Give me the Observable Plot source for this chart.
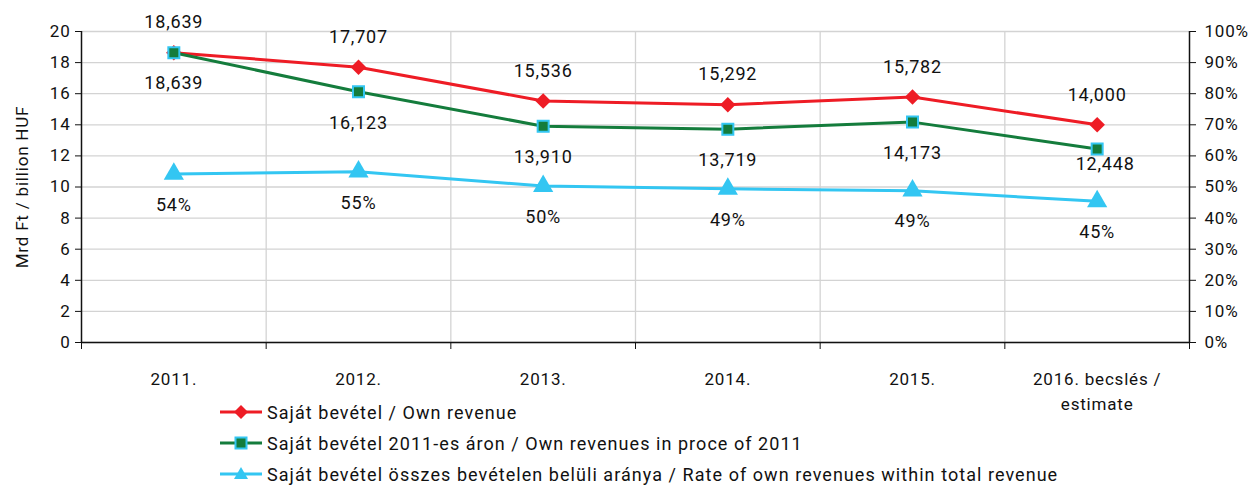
<!DOCTYPE html>
<html><head><meta charset="utf-8">
<script src="https://cdn.jsdelivr.net/npm/d3@7"></script>
<script src="https://cdn.jsdelivr.net/npm/@observablehq/plot@0.6"></script>
<style>
body{margin:0;background:#fff;font-family:Roboto,"Noto Sans",sans-serif}
#wrap{position:relative;width:1259px;height:492px}
#legend{position:absolute;left:220px;top:396.5px;font-size:18px;letter-spacing:1.05px;color:#111;font-family:Roboto,sans-serif}
.row{height:31px;display:flex;align-items:center;white-space:nowrap}
.row svg{margin-right:5px;flex:none}
</style></head><body><div id="wrap"><div id="chart"></div><div id="legend"></div></div>
<script>
const years = ["2011.", "2012.", "2013.", "2014.", "2015.", "2016. becslés /\nestimate"];
const ownRevenue = [18639, 17707, 15536, 15292, 15782, 14000];
const ownRevenue2011 = [18639, 16123, 13910, 13719, 14173, 12448];
const ownShare = [54.2, 54.9, 50.3, 49.4, 48.8, 45.4];
const seriesNames = [
  "Saját bevétel / Own revenue",
  "Saját bevétel 2011-es áron / Own revenues in proce of 2011",
  "Saját bevétel összes bevételen belüli aránya / Rate of own revenues within total revenue"
];
const yTicks = [0, 2, 4, 6, 8, 10, 12, 14, 16, 18, 20];
const yLabel = "Mrd Ft / billion HUF";

const RED = "#ee1c25", GREEN = "#147c3c", CYAN = "#33c6f2";
const fmt = d3.format(",");
const rows = years.map((y, i) => ({
  i, year: y,
  rev: ownRevenue[i] / 1000, revL: fmt(ownRevenue[i]),
  real: ownRevenue2011[i] / 1000, realL: fmt(ownRevenue2011[i]),
  share: ownShare[i] / 5, shareL: Math.round(ownShare[i]) + "%"
}));
const n = years.length;
const bounds = d3.range(n + 1).map(i => i - 0.5);
const last = rows.slice(-1);
const notLast = rows.slice(0, -1);

const chart = Plot.plot({
  width: 1259, height: 492,
  marginLeft: 81, marginRight: 70, marginTop: 31, marginBottom: 150,
  style: {fontFamily: "Roboto, sans-serif", fontSize: "17px", color: "#111", background: "transparent", overflow: "visible", letterSpacing: "0.8px"},
  x: {type: "linear", domain: [-0.5, n - 0.5]},
  y: {domain: [0, 20]},
  marks: [
    Plot.ruleY(yTicks, {stroke: "#d3d3d3", strokeWidth: 1.3}),
    Plot.ruleX(bounds.slice(1, -1), {stroke: "#d3d3d3", strokeWidth: 1.3}),
    Plot.axisY(yTicks, {anchor: "left", tickSize: 6, tickPadding: 5, label: null, stroke: "#111", fontSize: 17}),
    Plot.axisY(yTicks, {anchor: "right", tickSize: 6, tickPadding: 9, label: null, tickFormat: d => d * 5 + "%", textAnchor: "start", stroke: "#111", fontSize: 17}),
    Plot.axisX(bounds, {tickSize: 7, tickFormat: () => "", label: null, stroke: "#111"}),
    Plot.axisX(d3.range(n), {tickSize: 0, tickPadding: 24, tickFormat: i => years[i], label: null, lineHeight: 1.5, lineAnchor: "top", fontSize: 17}),
    Plot.ruleX([bounds[0], bounds[n]], {stroke: "#111", strokeWidth: 1.5}),
    Plot.ruleY([0], {stroke: "#111", strokeWidth: 1.5}),
    Plot.text([yLabel], {frameAnchor: "left", textAnchor: "middle", rotate: -90, dx: -59, fontSize: 17, fill: "#111"}),
    // own revenue
    Plot.line(rows, {x: "i", y: "rev", stroke: RED, strokeWidth: 3}),
    Plot.dot(rows, {x: "i", y: "rev", symbol: "diamond2", r: 7, fill: RED, stroke: "none"}),
    // real
    Plot.line(rows, {x: "i", y: "real", stroke: GREEN, strokeWidth: 3}),
    Plot.dot(rows, {x: "i", y: "real", symbol: "square", r: 6.2, fill: GREEN, stroke: CYAN, strokeWidth: 2}),
    // share
    Plot.line(rows, {x: "i", y: "share", stroke: CYAN, strokeWidth: 3}),
    Plot.dot(rows, {x: "i", y: "share", symbol: "triangle", r: 7.5, fill: CYAN, stroke: "none"}),
    // labels
    Plot.text(rows, {x: "i", y: "rev", text: "revL", dy: -30, fontSize: 18, fill: "#111"}),
    Plot.text(notLast, {x: "i", y: "real", text: "realL", dy: 31, fontSize: 18, fill: "#111"}),
    Plot.text(last, {x: "i", y: "real", text: "realL", dy: 15, dx: 8, fontSize: 18, fill: "#111"}),
    Plot.text(rows, {x: "i", y: "share", text: "shareL", dy: 31, fontSize: 18, fill: "#111"})
  ]
});
document.getElementById("chart").appendChild(chart);

const symbols = [
  `<polygon points="21,-7 28,0 21,7 14,0" fill="${RED}"/>`,
  `<rect x="15.5" y="-5.5" width="11" height="11" fill="${GREEN}" stroke="${CYAN}" stroke-width="2"/>`,
  `<polygon points="21,-7 28,5 14,5" fill="${CYAN}"/>`
];
const colors = [RED, GREEN, CYAN];
const legend = document.getElementById("legend");
seriesNames.forEach((name, k) => {
  const row = document.createElement("div");
  row.className = "row";
  row.innerHTML = `<svg width="42" height="16" viewBox="0 -8 42 16"><line x1="0" x2="42" y1="0" y2="0" stroke="${colors[k]}" stroke-width="3"/>${symbols[k]}</svg><span>${name}</span>`;
  legend.appendChild(row);
});
</script></body></html>
